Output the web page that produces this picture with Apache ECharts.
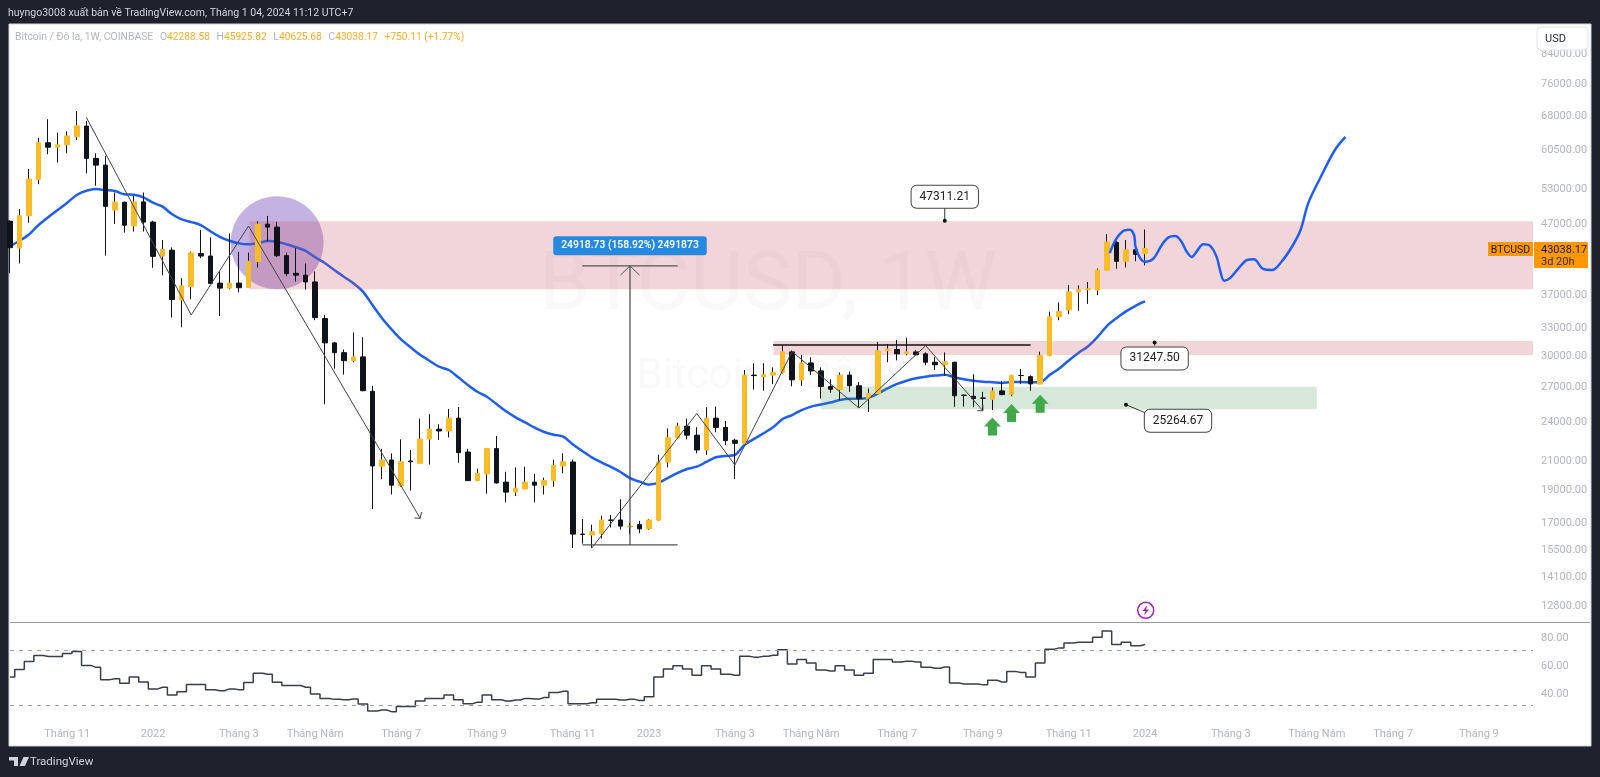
<!DOCTYPE html>
<html><head><meta charset="utf-8">
<style>html,body{margin:0;padding:0;background:#1e222d;overflow:hidden}#c{width:1600px;height:777px}</style>
<script src="https://cdn.jsdelivr.net/npm/echarts@6/dist/echarts.min.js"></script>
</head><body><div id="c"></div>
<script>
const opens=[47240,43120,48120,54500,61730,60800,61300,63000,65340,58530,57200,49080,50400,46500,50450,47100,41950,42800,36110,37800,42300,41950,38250,37600,38250,37700,41150,46760,46300,42000,39550,39300,38400,33900,31190,30170,29360,29740,26450,20480,20920,19150,20850,20680,22470,23240,23100,24130,21500,19500,19950,21750,19400,18750,18950,19400,19200,19500,20500,20780,16250,16200,16270,17050,17050,16650,16780,16540,17040,20780,22570,23480,22770,21650,24130,23380,22380,22130,27950,27800,27950,28200,30250,27490,29130,28350,26880,26600,27950,26950,25800,26250,30370,30500,30100,30250,30050,29200,28950,29200,26100,26000,25850,25730,26480,26150,27920,27800,27100,29870,34100,34900,37100,37400,37360,39950,43940,41200,42850,42288.58];
const highs=[47400,49220,56460,62800,66900,63900,64200,68800,66500,59550,59000,52100,50500,51500,52100,47300,44300,43200,38900,42600,45840,44700,39800,45300,42550,42450,47250,48100,47150,42450,43100,40900,39800,34300,31300,30500,32330,31800,26950,21730,21400,22450,21650,24100,24460,23640,24900,25070,21730,20300,21800,22700,20100,20400,20450,19950,19700,20950,21400,20950,17100,16780,17300,17350,18300,16900,17000,17100,21300,23300,23750,24100,23400,25050,25100,23900,22500,28440,29100,29100,28700,30900,30400,29950,29700,28700,27550,28200,28300,27300,26700,31280,31050,31500,31750,30450,30200,29730,30200,29250,26150,28030,26400,26800,27400,27980,28540,27920,30270,34700,35800,38000,37950,38400,40200,45200,44150,44300,43700,45925.82];
const lows=[39570,40900,47000,53600,59350,57700,59550,62320,55600,53300,42000,46800,45430,45600,45600,40300,39300,34000,32900,36200,41650,38200,34200,37450,37050,37700,40350,44100,41800,39150,38450,37400,33700,25300,28560,28000,29200,26450,17700,19600,18600,19100,18850,20680,20600,22400,22600,20720,19480,19480,18650,19300,18100,18500,18950,18100,18600,19100,20000,15500,15730,15500,16000,16620,16500,16250,16300,16480,17000,20400,22500,22450,21400,21300,23000,22000,19600,22100,26600,26500,27100,28100,26900,26930,27950,25800,26300,25650,26400,25000,24650,26200,29200,29380,29900,29900,28900,28440,27900,25080,25100,25050,24800,24810,26100,26000,27100,26500,27100,29800,33700,34400,34800,35630,36700,39950,40150,40350,41200,40625.68];
const closes=[43160,48120,54550,61730,60800,61300,63190,65400,58530,57200,49700,50420,46600,50450,47100,41900,42900,36170,37900,42400,41950,38200,37600,38250,37650,41200,46760,46300,42000,39500,39300,38400,34000,31190,30170,29360,29740,26500,20500,20920,19200,20800,20800,22470,23240,23100,24130,21450,19500,20000,21750,19350,18750,19000,19400,19200,19500,20540,20800,16250,16230,16380,17050,17030,16700,16700,16540,17050,20780,22570,23480,22770,21650,24130,23380,22350,22150,27950,27900,28030,28200,30250,27500,29130,28350,26880,26630,27950,26950,25800,26250,30370,30550,30050,30250,29950,29200,28950,29250,26050,26080,25800,25830,26480,26150,27900,27900,27120,29900,34100,34720,37120,37440,37500,40000,44000,41200,42850,42200,43038.17];
const ma=[43410,44200,45150,46630,47880,49080,50320,51660,52410,52720,52540,52360,51770,51700,51240,50320,49640,48370,47540,47100,46630,45640,44800,44200,43800,43660,43850,44150,44050,43660,43220,42680,41760,40960,40000,39090,38230,37150,35500,33930,32670,31570,30730,29950,29330,28760,28440,27740,27020,26400,25960,25320,24700,24200,23790,23360,23020,22810,22660,22070,21570,21110,20750,20430,20080,19670,19430,19240,19370,19690,20020,20290,20450,20780,21120,21210,21280,22030,22480,22920,23390,24060,24390,24810,25100,25280,25450,25670,25780,25780,25870,26250,26720,27120,27420,27650,27800,27900,27970,27740,27550,27420,27330,27270,27210,27300,27300,27270,27270,27970,28580,29380,30140,30820,31820,33040,33930,34730,35400,35930];
const rsi=[50.8,56.3,62.1,66.4,65.7,65.7,67.8,69.3,59.2,57.8,48.9,49.6,46.3,50.8,47.2,42.2,43.4,37.7,40.1,45.3,45.3,41.5,40.8,42.2,41.5,46.8,53.5,52.8,47,44.6,44.6,43.4,38.4,35.3,34.6,34.3,34.8,31.2,26.2,26.9,25.7,29.5,29.5,33.4,35.3,35.3,37.7,34.3,31.4,32.6,37.7,34.3,33.4,34.1,35.3,34.8,36,39.6,40.5,31.4,31.4,32.2,34.6,34.6,34.1,34.6,33.8,36.5,50.8,56.6,59,56.6,52,59,56.6,52.8,52,65.9,65.2,65.9,66.6,70.5,60.2,63.5,60.9,55.9,55.2,59,55.9,52,53.5,63.5,63.5,61.6,62.3,61.6,57.8,57.1,58,46.5,45.8,45.8,45.1,48.4,47.2,54.7,54,50.8,60.9,71,71.9,75.5,76,76,79.6,84.1,74.3,76,73.4,74.3];

const priceTicks=[84000,76000,68000,60500,53000,47000,37000,33000,30000,27000,24000,21000,19000,17000,15500,14100,12800];
const rsiTicks=[40,60,80];
const timeTickWeeks=[6,15,24,32,41,50,59,67,76,84,93,102,111,119,128,137,145,154];
const timeTickLabels=['Tháng 11','2022','Tháng 3','Tháng Năm','Tháng 7','Tháng 9','Tháng 11','2023','Tháng 3','Tháng Năm','Tháng 7','Tháng 9','Tháng 11','2024','Tháng 3','Tháng Năm','Tháng 7','Tháng 9'];

// hand-drawn annotations, [week index, price]
const zigzagA=[[8,67330],[19,34310],[25,46470],[43,17150]];
const arrowA=[[42.4,17170],[43,17150],[43.15,17520]];
const zigzagB=[[61,15500],[72,24520],[76,20570],[82,30280],[89,24980],[96,30900],[102,24750]];
const arrowB=[[101.4,24750],[102,24750],[102,25240]];
const measureV=[[65,15660],[65,40570]];
const measureTop=[[60,40570],[70,40570]];
const measureBase=[[60,15660],[70,15660]];
const measureHead=[[64,39300],[65,40570],[66,39300]];
const resistance=[[80,30980],[107,30980]];
const forecast=[[115.3,42370],[115.9,44300],[116.7,45700],[117.4,45900],[117.85,45030],[118,43300],[118.5,41620],[119,41140],[119.9,41620],[120.75,43560],[121.45,44700],[122.15,44900],[122.75,44200],[123.4,42500],[123.9,41820],[124.4,42580],[125.1,43670],[125.8,43460],[126.5,41830],[126.9,39770],[127.3,38550],[127.9,38900],[128.8,40230],[129.7,41380],[130.4,41480],[131.4,40130],[132.3,40000],[133.3,41140],[134.4,43300],[135.3,45840],[136.1,50200],[137.35,54700],[138.9,60230],[140,63000]];
const zoneTop=[25.1,159.67,47240,37450];
const zoneMid=[80.05,159.67,31390,29930];
const zoneGreen=[85,137,26860,24870];
const circlePoint=[28,43900];
const buyArrows=[[103,23460],[105,24550],[108,25350]];
const callouts=[[98,47311.21],[120,31247.50],[117,25264.67]];
const leaderA=[[98,47311.21],[98,49850]];
const leaderB=[[120,31247.5],[120,30900]];
const leaderC=[[117,25264.67],[119,24580]];

const F='Roboto, sans-serif';
const GREY='#b2b5be', YEL='#fbbd27', DARK='#10131a', BLUE='#1f5fef';
const X_MAX=159.67;
const chart=echarts.init(document.getElementById('c'),null,{renderer:'canvas',width:1600,height:777});

function lineS(name,data,color,width,z,extra){
  return Object.assign({name,type:'line',xAxisIndex:0,yAxisIndex:0,data,symbol:'none',silent:true,animation:false,z,
    lineStyle:{color,width}},extra||{});
}
function zoneS(name,r,color){
  return {name,type:'line',xAxisIndex:0,yAxisIndex:0,data:[],silent:true,animation:false,z:3,
    markArea:{silent:true,z:3,itemStyle:{color,borderWidth:0},data:[[{coord:[r[0],r[2]]},{coord:[r[1],r[3]]}]]}};
}
const idx=opens.map((_,i)=>i);
const calloutOffsets=[[0,-24],[0,16],[52,16]];

const series=[
 {name:'circle',type:'scatter',xAxisIndex:0,yAxisIndex:0,data:[circlePoint],symbolSize:93,z:1,silent:true,animation:false,
  itemStyle:{color:'rgba(126,87,194,0.46)',opacity:1}},
 lineS('MA',idx.map(i=>[i,ma[i]]),BLUE,2.5,2,{smooth:0.3}),
 zoneS('zoneTop',zoneTop,'rgba(200,80,90,0.24)'),
 zoneS('zoneMid',zoneMid,'rgba(200,80,90,0.24)'),
 zoneS('zoneGreen',zoneGreen,'rgba(70,150,85,0.22)'),
 {name:'wicks',type:'candlestick',xAxisIndex:0,yAxisIndex:0,barWidth:1,z:4,silent:true,animation:false,
  encode:{x:0,y:[1,2,3,4]},
  data:idx.map(i=>[i,opens[i],closes[i],lows[i],highs[i]]),
  itemStyle:{color:DARK,color0:DARK,borderColor:DARK,borderColor0:DARK,borderWidth:1}},
 {name:'BTCUSD',type:'candlestick',xAxisIndex:0,yAxisIndex:0,barWidth:5,z:5,silent:true,animation:false,
  encode:{x:0,y:[1,2,3,4]},
  data:idx.map(i=>[i,opens[i],closes[i],Math.min(opens[i],closes[i]),Math.max(opens[i],closes[i])]),
  itemStyle:{color:YEL,color0:DARK,borderColor:YEL,borderColor0:DARK,borderWidth:1}},
 lineS('zigzagA',zigzagA,'#444',1,6),
 lineS('arrowA',arrowA,'#444',1,6),
 lineS('zigzagB',zigzagB,'#444',1,6),
 lineS('arrowB',arrowB,'#444',1,6),
 lineS('measureV',measureV,'#444',1.2,6),
 lineS('measureTop',measureTop,'#555',1.2,6),
 lineS('measureBase',measureBase,'#555',1.2,6),
 lineS('measureHead',measureHead,'#555',1,6),
 lineS('resistance',resistance,'#111',1.5,6),
 lineS('forecast',forecast,BLUE,2.5,7,{smooth:0.35}),
 {name:'buy',type:'scatter',xAxisIndex:0,yAxisIndex:0,data:buyArrows,z:7,silent:true,animation:false,
  symbol:'path://M8.5 0 L17 9 L13 9 L13 18 L4 18 L4 9 L0 9 Z',symbolSize:[17,18],itemStyle:{color:'#43a84b',opacity:1}},
 lineS('leaderA',leaderA,'#333',1,7),
 lineS('leaderB',leaderB,'#333',1,7),
 lineS('leaderC',leaderC,'#333',1,7),
 {name:'callouts',type:'scatter',xAxisIndex:0,yAxisIndex:0,z:8,silent:true,animation:false,symbolSize:4,
  itemStyle:{color:'#111',opacity:1},
  data:callouts.map((c,i)=>({value:c,label:{show:true,position:'inside',offset:calloutOffsets[i],
    formatter:c[1].toFixed(2),color:'#222',fontFamily:F,fontSize:12,backgroundColor:'#fff',borderColor:'#444',borderWidth:1,borderRadius:5,padding:[5,8]}}))},
 {name:'measure',type:'scatter',xAxisIndex:0,yAxisIndex:0,z:8,silent:true,animation:false,symbolSize:1,itemStyle:{color:'#5a5a5a',opacity:1},
  data:[{value:measureV[1],label:{show:true,position:'inside',offset:[0,-20],formatter:'24918.73 (158.92%) 2491873',
    color:'#fff',fontFamily:F,fontWeight:600,fontSize:10.3,backgroundColor:'#2589e0',borderRadius:3,padding:[4.5,8]}}]},
 {name:'RSI',type:'line',xAxisIndex:1,yAxisIndex:1,data:idx.map(i=>[i,rsi[i]]),step:'middle',symbol:'none',silent:true,animation:false,
  lineStyle:{color:'#3a3e4a',width:1.5},
  markLine:{silent:true,symbol:'none',label:{show:false},animation:false,lineStyle:{color:'#9a9da4',type:[4,5],width:1},data:[{yAxis:70},{yAxis:30}]}}
];

const timeLabelOf=v=>{const k=timeTickWeeks.indexOf(Math.round(v));return k>=0?timeTickLabels[k]:'';};
const hidden={axisLine:{show:false},axisTick:{show:false},splitLine:{show:false}};

chart.setOption({
 animation:false,
 backgroundColor:'#1e222d',
 textStyle:{fontFamily:F},
 grid:[{left:10,top:24,width:1523,height:598},{left:10,top:623,width:1523,height:99}],
 xAxis:[
  Object.assign({type:'value',gridIndex:0,min:0,max:X_MAX,axisLabel:{show:false}},hidden),
  Object.assign({type:'value',gridIndex:1,min:0,max:X_MAX,
    axisLabel:{customValues:timeTickWeeks,formatter:timeLabelOf,color:GREY,fontFamily:F,fontSize:11,margin:7,hideOverlap:false}},hidden)
 ],
 yAxis:[
  Object.assign({type:'log',logBase:10,gridIndex:0,position:'right',min:12040,max:92560,
    axisLabel:{customValues:priceTicks,formatter:v=>Number(v).toFixed(2),color:GREY,fontFamily:F,fontSize:11,margin:8,verticalAlign:'top',lineHeight:4,hideOverlap:false}},hidden),
  Object.assign({type:'value',gridIndex:1,position:'right',min:18.2,max:89.93,
    axisLabel:{customValues:rsiTicks,formatter:v=>Number(v).toFixed(2),color:GREY,fontFamily:F,fontSize:11,margin:8,verticalAlign:'top',lineHeight:4,hideOverlap:false}},hidden)
 ],
 series,
 graphic:[
  {type:'rect',z:-10,silent:true,shape:{x:9,y:24,width:1582,height:722},style:{fill:'#fff',stroke:'#cfd1d6',lineWidth:1}},
  {type:'text',z:-5,silent:true,style:{x:768,y:288,text:'BTCUSD, 1W',align:'center',verticalAlign:'middle',fontFamily:F,fontSize:82,fill:'#f9f9f9'}},
  {type:'text',z:-5,silent:true,style:{x:768,y:377,text:'Bitcoin / Đô la',align:'center',verticalAlign:'middle',fontFamily:F,fontSize:42,fill:'#f9f9f9'}},
  {type:'line',z:20,silent:true,shape:{x1:10,y1:622.5,x2:1590,y2:622.5},style:{stroke:'#9a9a9a',lineWidth:1}},
  {type:'text',z:50,silent:true,style:{x:8,y:13,text:'huyngo3008 xuất bản về TradingView.com, Tháng 1 04, 2024 11:12 UTC+7',verticalAlign:'middle',fontFamily:F,fontSize:10.5,fill:'#d1d4dc'}},
  {type:'text',z:50,silent:true,style:{x:15,y:37,verticalAlign:'middle',
    text:'{g|Bitcoin / Đô la, 1W, COINBASE}  {g|O}{o|42288.58}  {g|H}{o|45925.82}  {g|L}{o|40625.68}  {g|C}{o|43038.17}  {o|+750.11 (+1.77%)}',
    rich:{g:{fill:GREY,fontFamily:F,fontSize:10.4},o:{fill:'#f7ae2f',fontFamily:F,fontSize:10.2}}}},
  {type:'rect',z:50,silent:true,shape:{x:1537,y:27,width:51,height:23,r:4},style:{fill:'#fff',stroke:'#e0e3eb',lineWidth:1}},
  {type:'text',z:51,silent:true,style:{x:1545,y:39,text:'USD',verticalAlign:'middle',fontFamily:F,fontSize:11,fill:'#2a2e39'}},
  {type:'rect',z:50,silent:true,shape:{x:1488,y:242,width:45,height:14},style:{fill:'#ff9800'}},
  {type:'text',z:51,silent:true,style:{x:1510.5,y:250,text:'BTCUSD',align:'center',verticalAlign:'middle',fontFamily:F,fontSize:10.5,fill:'#1a1a1a'}},
  {type:'rect',z:50,silent:true,shape:{x:1534,y:242,width:54,height:26},style:{fill:'#ff9800'}},
  {type:'text',z:51,silent:true,style:{x:1541,y:250,text:'43038.17',verticalAlign:'middle',fontFamily:F,fontSize:11,fill:'#1a1a1a'}},
  {type:'text',z:51,silent:true,style:{x:1541,y:262,text:'3d 20h',verticalAlign:'middle',fontFamily:F,fontSize:11,fill:'#3a2a10'}},
  {type:'circle',z:30,silent:true,shape:{cx:1145.7,cy:610.3,r:8},style:{fill:'#fff',stroke:'#9c27b0',lineWidth:1.5}},
  {type:'polygon',z:31,silent:true,shape:{points:[[1147.5,605],[1142.5,611],[1145.5,611],[1144,615.5],[1149,609.5],[1146,609.5]]},style:{fill:'#9c27b0'}},
  {type:'polygon',z:50,silent:true,shape:{points:[[9,757],[18,757],[18,766],[14,766],[14,760.5],[9,760.5]]},style:{fill:'#d1d4dc'}},
  {type:'polygon',z:50,silent:true,shape:{points:[[23.5,757],[29,757],[25,766],[19.5,766]]},style:{fill:'#d1d4dc'}},
  {type:'text',z:50,silent:true,style:{x:30,y:762,text:'TradingView',verticalAlign:'middle',fontFamily:F,fontSize:11.5,fill:'#d1d4dc'}}
 ]
});
</script></body></html>
